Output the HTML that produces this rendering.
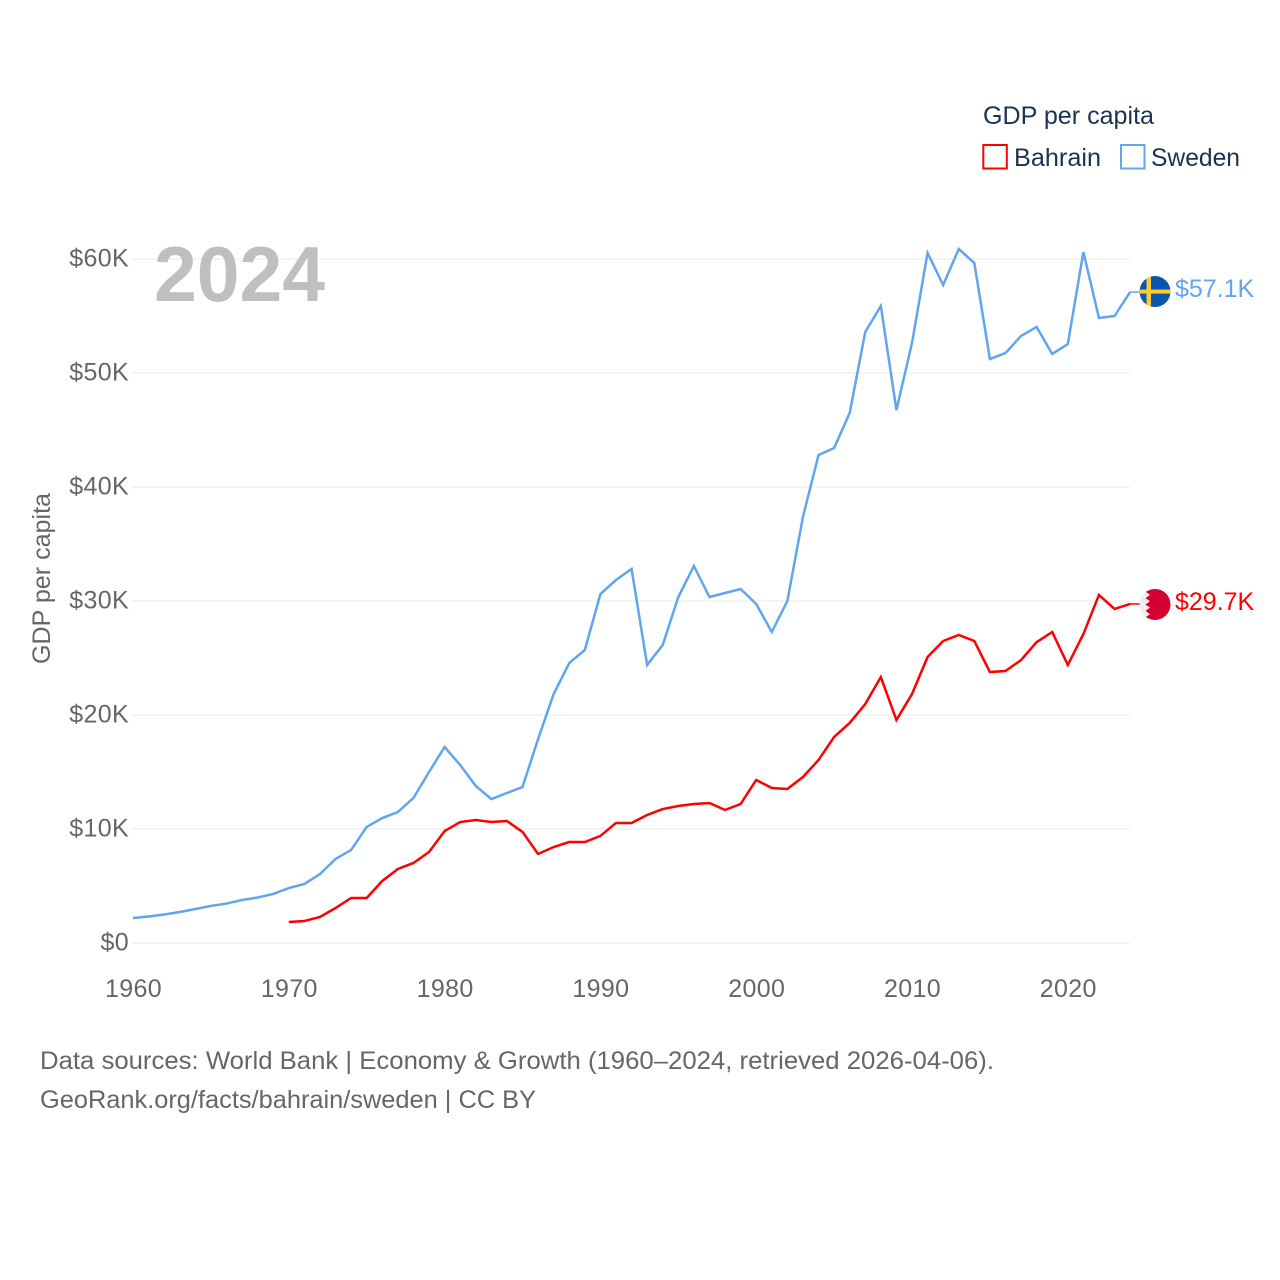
<!DOCTYPE html>
<html lang="en">
<head>
<meta charset="utf-8">
<title>GDP per capita: Bahrain and Sweden</title>
<style>
html,body{margin:0;padding:0;background:#fff;}
svg{display:block;font-family:"Liberation Sans",sans-serif;}
</style>
</head>
<body>
<svg id="chart" width="1280" height="1280" viewBox="0 0 1280 1280" xmlns="http://www.w3.org/2000/svg">
  <defs>
    <clipPath id="flag-clip"><circle cx="0" cy="0" r="15.5"></circle></clipPath>
  </defs>
  <rect x="0" y="0" width="1280" height="1280" fill="#ffffff"></rect>
  <g id="grid"></g>
  <g id="y-ticks"></g>
  <g id="x-ticks"></g>
  <text x="154" y="301" font-size="78" font-weight="700" fill="#bfbfbf" textLength="171" lengthAdjust="spacingAndGlyphs">2024</text>
  <text transform="translate(50,664) rotate(-90)" font-size="25" fill="#666666" textLength="171" lengthAdjust="spacingAndGlyphs">GDP per capita</text>
  <g id="series"></g>
  <g id="flag-sweden" clip-path="url(#flag-clip)">
    <rect x="-16" y="-16" width="32" height="32" fill="#0a56ac"></rect>
    <rect x="-8.5" y="-16" width="4.5" height="32" fill="#fecb2f"></rect>
    <rect x="-16" y="-2" width="32" height="4" fill="#fecb2f"></rect>
  </g>
  <g id="flag-bahrain" clip-path="url(#flag-clip)">
    <rect x="-16" y="-16" width="32" height="32" fill="#eeeeee"></rect>
    <polygon fill="#d4002f" points="16,-16 -5,-16 -9.5,-12.8 -5,-9.6 -9.5,-6.4 -5,-3.2 -9.5,0 -5,3.2 -9.5,6.4 -5,9.6 -9.5,12.8 -5,16 16,16"></polygon>
  </g>
  <text id="label-sweden" x="1175" font-size="25" fill="#60a5ee"></text>
  <text id="label-bahrain" x="1175" font-size="25" fill="#ff0000"></text>

  <g>
    <text x="983" y="124" font-size="25" fill="#1a3352" textLength="171" lengthAdjust="spacingAndGlyphs">GDP per capita</text>
    <g>
      <rect x="983.3" y="145" width="23.5" height="23.5" fill="#ffffff" stroke="#ff0000" stroke-width="2"></rect>
      <text x="1014" y="166" font-size="25" fill="#1a3352" textLength="87" lengthAdjust="spacingAndGlyphs">Bahrain</text>
    </g>
    <g>
      <rect x="1121" y="145" width="23.5" height="23.5" fill="#ffffff" stroke="#60a5ee" stroke-width="2"></rect>
      <text x="1151" y="166" font-size="25" fill="#1a3352" textLength="89" lengthAdjust="spacingAndGlyphs">Sweden</text>
    </g>
  </g>

  <text x="40" y="1069" font-size="25" fill="#666666" textLength="954" lengthAdjust="spacingAndGlyphs">Data sources: World Bank | Economy &amp; Growth (1960–2024, retrieved 2026-04-06).</text>
  <text x="40" y="1108" font-size="25" fill="#666666" textLength="496" lengthAdjust="spacingAndGlyphs">GeoRank.org/facts/bahrain/sweden | CC BY</text>
</svg>
<script>
const swedenStartYear = 1960;
const bahrainStartYear = 1970;
const swedenValues = [2.19,2.32,2.5,2.72,2.98,3.25,3.46,3.77,3.99,4.3,4.82,5.18,6.05,7.37,8.16,10.18,10.96,11.49,12.72,15.0,17.19,15.61,13.77,12.63,13.16,13.68,17.89,21.84,24.56,25.7,30.61,31.84,32.81,24.39,26.14,30.35,33.07,30.35,30.7,31.05,29.74,27.28,30.0,37.37,42.81,43.42,46.49,53.6,55.88,46.75,52.63,60.53,57.72,60.88,59.65,51.23,51.75,53.25,54.04,51.67,52.54,60.61,54.82,55.0,57.1];
const bahrainValues = [1.84,1.93,2.28,3.07,3.95,3.95,5.44,6.49,7.02,7.98,9.82,10.61,10.79,10.61,10.7,9.74,7.81,8.42,8.86,8.86,9.39,10.53,10.53,11.23,11.75,12.02,12.19,12.28,11.67,12.19,14.3,13.6,13.51,14.56,16.05,18.07,19.3,20.96,23.33,19.56,21.84,25.09,26.49,27.02,26.49,23.77,23.86,24.82,26.4,27.28,24.39,27.1,30.53,29.3,29.74];
const yTickValues = [0,10,20,30,40,50,60];
const yTickLabels = ["$0","$10K","$20K","$30K","$40K","$50K","$60K"];
const xTickValues = [1960,1970,1980,1990,2000,2010,2020];
const xTickLabels = ["1960","1970","1980","1990","2000","2010","2020"];

const NS = 'http://www.w3.org/2000/svg';
const xScale = function (year) { return 133 + (year - 1960) * 15.58; };
const yScale = function (v) { return 943 - v * 11.4; };
const FLAG_X = 1155;

function make(tag, attrs, parent) {
  const el = document.createElementNS(NS, tag);
  Object.keys(attrs).forEach(function (k) { el.setAttribute(k, attrs[k]); });
  parent.appendChild(el);
  return el;
}

const grid = document.getElementById('grid');
const yTicks = document.getElementById('y-ticks');
yTickValues.forEach(function (v, i) {
  const line = make('line', { x1: 132, x2: 1130, y1: yScale(v), y2: yScale(v), stroke: '#eeeeee', 'stroke-width': 1.3 }, grid);
  
  
  const t = make('text', { x: 129, y: yScale(v) + 7.7, 'text-anchor': 'end', 'font-size': 25, 'letter-spacing': 0.35, fill: '#666666' }, yTicks);
  
  
  t.textContent = yTickLabels[i];
});

const xTicks = document.getElementById('x-ticks');
xTickValues.forEach(function (year, i) {
  const t = make('text', { x: xScale(year) + 0.5, y: 997, 'text-anchor': 'middle', 'font-size': 25, 'letter-spacing': 0.35, fill: '#666666' }, xTicks);
  
  
  t.textContent = xTickLabels[i];
});

function toPoints(values, startYear) {
  return values.map(function (v, i) {
    return xScale(startYear + i).toFixed(2) + ',' + yScale(v).toFixed(2);
  }).join(' ');
}

const series = document.getElementById('series');

const bahrainLine = make('polyline', { points: toPoints(bahrainValues, bahrainStartYear), fill: 'none', stroke: '#ff0000', 'stroke-width': 2.5, 'stroke-linejoin': 'miter' }, series);



const swedenLine = make('polyline', { points: toPoints(swedenValues, swedenStartYear), fill: 'none', stroke: '#60a5ee', 'stroke-width': 2.5, 'stroke-linejoin': 'miter' }, series);



const bahrainLast = bahrainValues[bahrainValues.length - 1];
const swedenLast = swedenValues[swedenValues.length - 1];

const bahrainConnector = make('line', { x1: 1130, x2: 1142, y1: yScale(bahrainLast), y2: yScale(bahrainLast), stroke: '#ff0000', 'stroke-width': 1.5 }, series);



const swedenConnector = make('line', { x1: 1130, x2: 1142, y1: yScale(swedenLast), y2: yScale(swedenLast), stroke: '#60a5ee', 'stroke-width': 1.5 }, series);



document.getElementById('flag-sweden').setAttribute('transform', 'translate(' + FLAG_X + ',' + (yScale(swedenLast) - 0.5) + ')');
document.getElementById('flag-bahrain').setAttribute('transform', 'translate(' + FLAG_X + ',' + (yScale(bahrainLast) + 0.5) + ')');

function formatValue(v) { return '$' + v.toFixed(1) + 'K'; }
const labelSweden = document.getElementById('label-sweden');
labelSweden.setAttribute('y', yScale(swedenLast) + 5);
labelSweden.textContent = formatValue(swedenLast);
const labelBahrain = document.getElementById('label-bahrain');
labelBahrain.setAttribute('y', yScale(bahrainLast) + 6);
labelBahrain.textContent = formatValue(bahrainLast);
</script>
</body>
</html>
